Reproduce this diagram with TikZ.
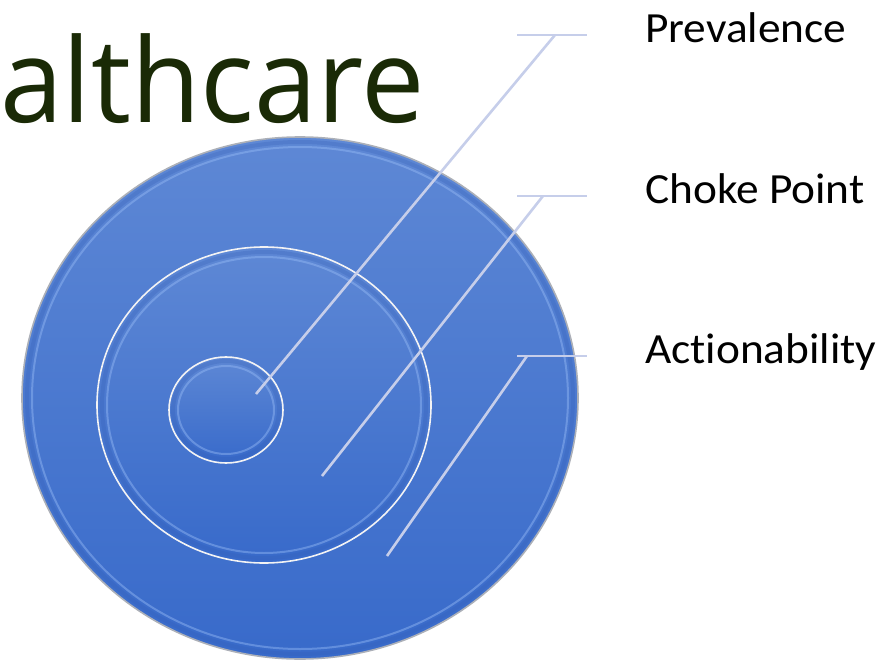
\documentclass[tikz,border=0pt]{standalone}
\usepackage{fontspec}
\setmainfont[Ligatures=NoCommon]{Carlito}
\newfontfamily\titlefont{Open Sans}
\usetikzlibrary{shapes.geometric, positioning}

\definecolor{titlegreen}{RGB}{26,42,6}
\definecolor{disctop}{RGB}{94,136,213}
\definecolor{discbot}{RGB}{56,106,202}
\definecolor{rimgray}{RGB}{172,176,184}
\definecolor{glowblue}{RGB}{150,186,245}
\definecolor{shadeblue}{RGB}{50,92,180}
\definecolor{leader}{RGB}{198,206,234}

\newcommand{\stretched}[1]{\scalebox{1.055}[1]{#1}}

\tikzset{
  disc/.style={ellipse, draw=rimgray, line width=1.6pt, top color=disctop, bottom color=discbot, inner sep=0pt},
  glow/.style={draw=glowblue, line width=2pt, opacity=0.45},
  lip/.style={draw=shadeblue, line width=4pt, opacity=0.25},
  leaderline/.style={draw=leader, line width=2.6pt},
  label/.style={anchor=base west, inner sep=0pt, font=\fontsize{43}{50}\selectfont}
}

\begin{document}
\begin{tikzpicture}[x=1pt, y=-1pt]
    \useasboundingbox (0,0) rectangle (881,661);

    % Title (cut off on the left)
    \node[anchor=base west, inner sep=0pt, text=titlegreen, font=\titlefont\fontsize{117}{140}\selectfont] (title) at (0,122) {\scalebox{0.965}[1]{althcare}};

    % Discs
    \node[disc, minimum width=556pt, minimum height=522pt] (outer) at (300,398) {};
    \draw[lip] (outer.center) ellipse (273 and 256);
    \draw[glow] (outer.center) ellipse (268 and 251);
    \node[disc, draw=white!85!rimgray, minimum width=334pt, minimum height=316pt] (middle) at (264,405) {};
    \draw[lip] (middle.center) ellipse (162 and 153);
    \draw[glow] (middle.center) ellipse (157 and 148);
    \node[disc, draw=white!85!rimgray, minimum width=114pt, minimum height=106pt] (inner) at (226,410) {};
    \draw[lip] (inner.center) ellipse (53 and 49);
    \draw[glow] (inner.center) ellipse (48 and 44);

    % Leader points
    \coordinate (p1) at (256,394);
    \coordinate (p2) at (322,476);
    \coordinate (p3) at (387,556);
    \coordinate (b1) at (555,35);
    \coordinate (b2) at (543,196);
    \coordinate (b3) at (527,356);
    \coordinate (l1) at (517,35);
    \coordinate (r1) at (587,35);
    \coordinate (l2) at (517,196);
    \coordinate (r2) at (587,196);
    \coordinate (l3) at (517,356);
    \coordinate (r3) at (587,356);

    \draw[leaderline] (p1) -- (b1);
    \draw[leaderline] (l1) -- (r1);
    \draw[leaderline] (p2) -- (b2);
    \draw[leaderline] (l2) -- (r2);
    \draw[leaderline] (p3) -- (b3);
    \draw[leaderline] (l3) -- (r3);

    % Labels
    \node[label] (prev) at (645,43) {\stretched{Prevalence}};
    \node[label] (choke) at (645,203) {\stretched{Choke Point}};
    \node[label] (action) at (645,363) {\stretched{Actionability}};
\end{tikzpicture}
\end{document}
